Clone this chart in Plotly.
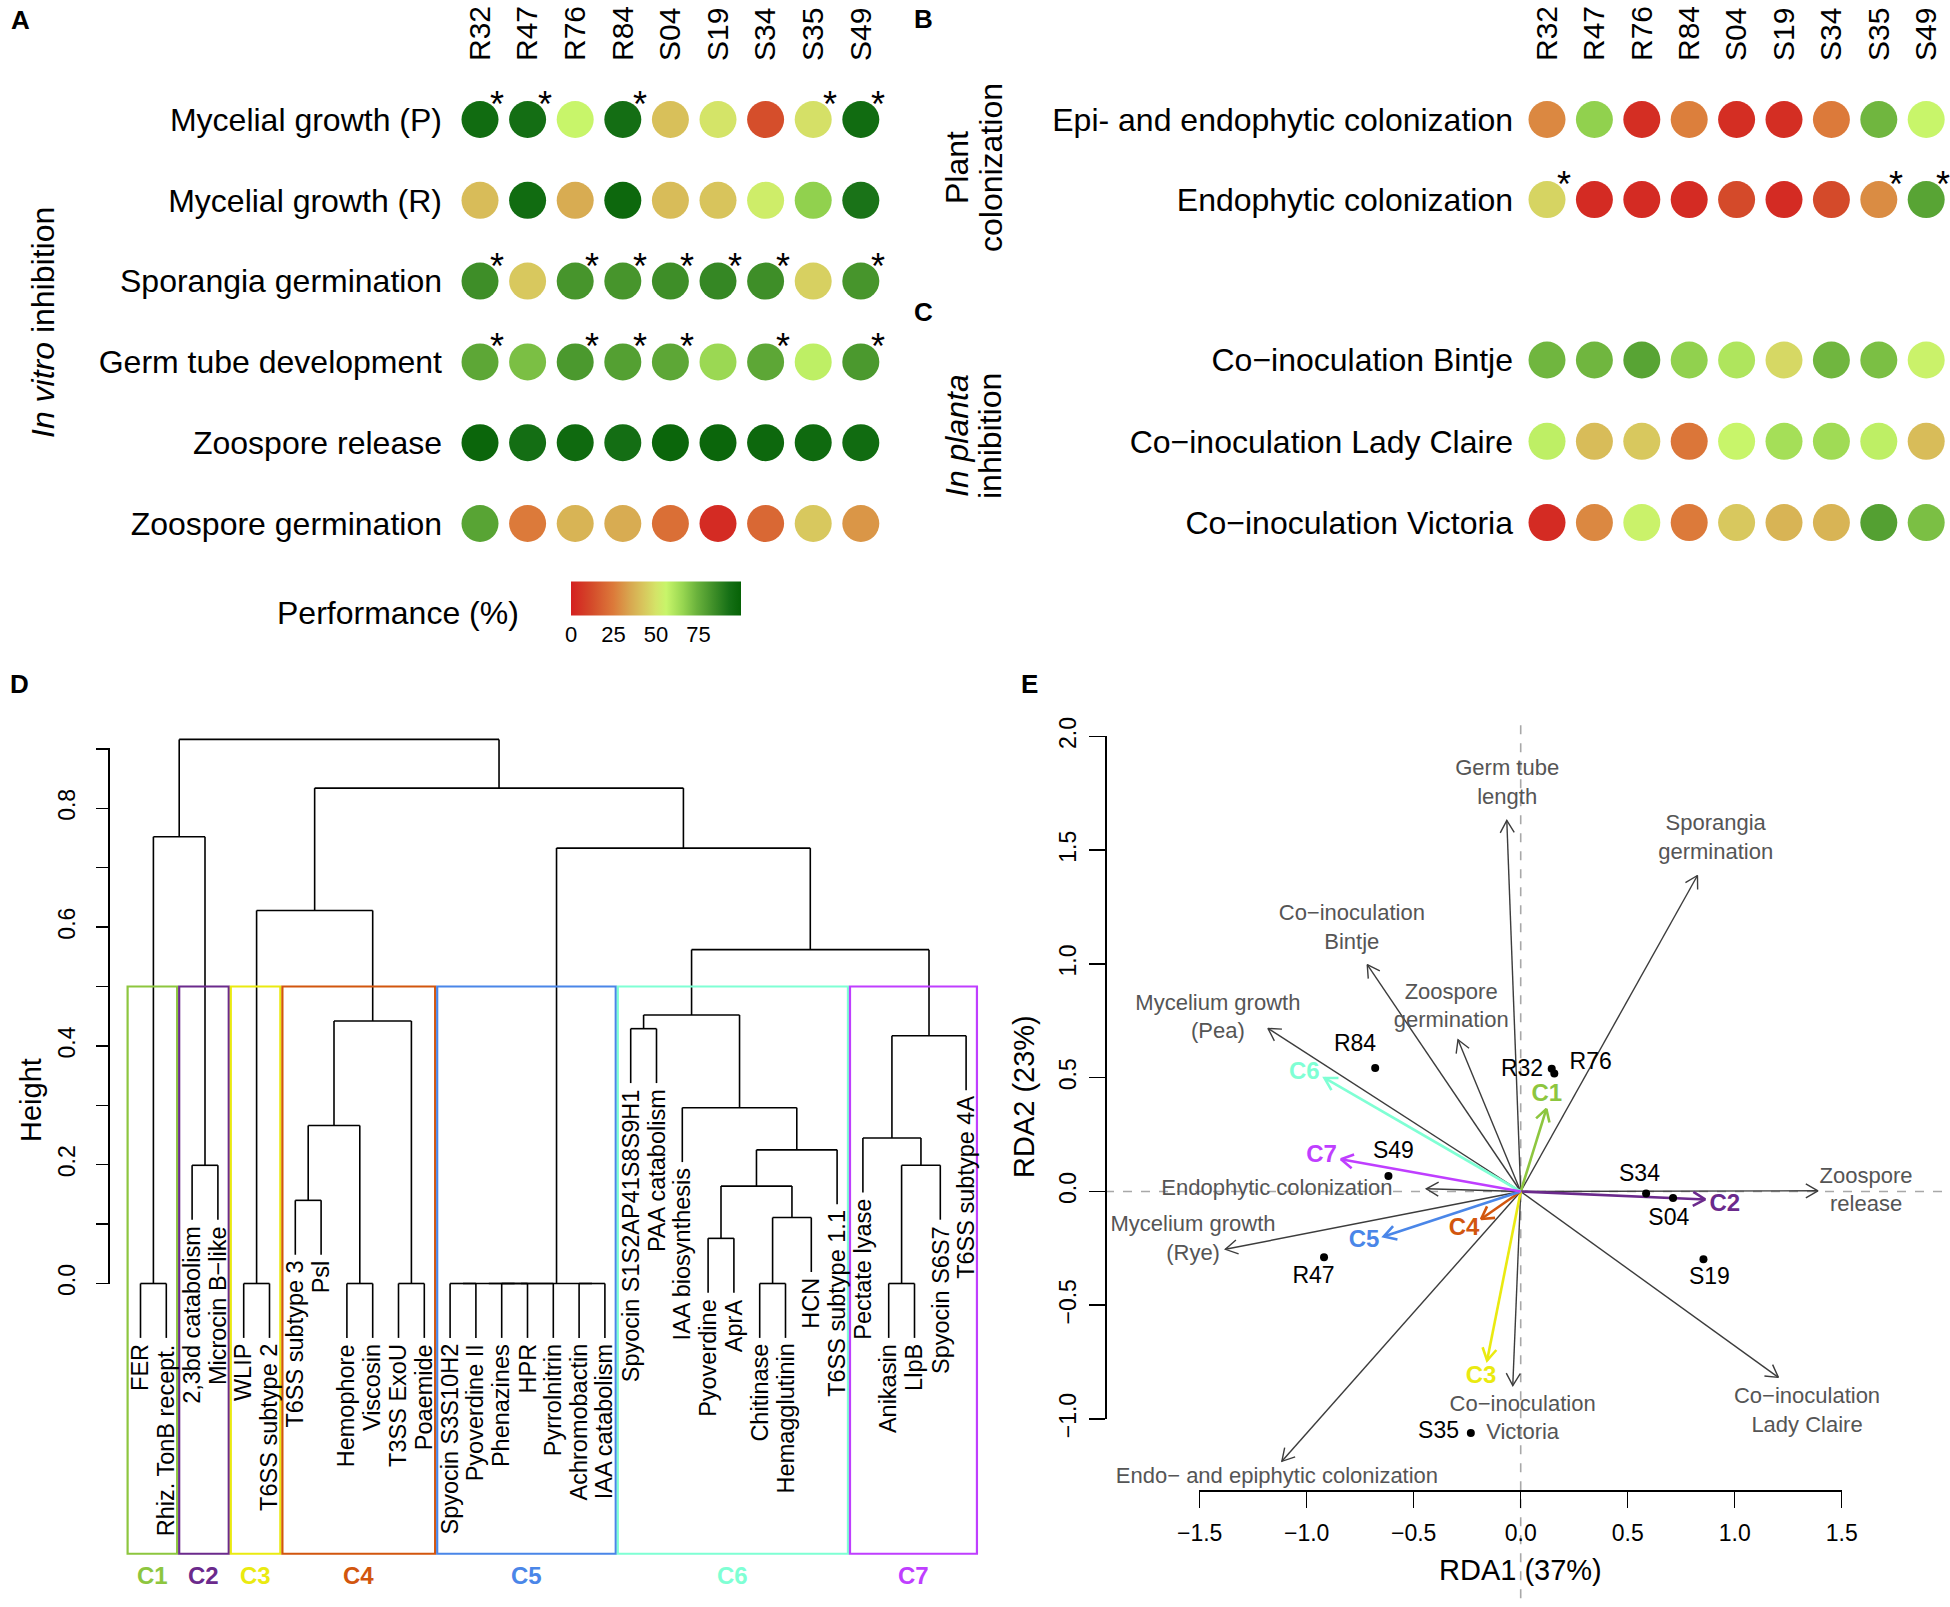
import math
import plotly.graph_objects as go

W, H = 1950, 1607
FONT = "Liberation Sans, Arial, Helvetica, sans-serif"

# ------------------------------------------------------------------ data
strains = ["R32", "R47", "R76", "R84", "S04", "S19", "S34", "S35", "S49"]

rows_A = ["Mycelial growth (P)", "Mycelial growth (R)", "Sporangia germination",
          "Germ tube development", "Zoospore release", "Zoospore germination"]
perf_A = [
    [95, 94, 56, 94, 41, 50, 13, 49, 95],
    [40, 95, 36, 97, 40, 42, 53, 67, 92],
    [84, 43, 82, 82, 84, 86, 84, 45, 82],
    [77, 71, 81, 79, 77, 65, 77, 58, 81],
    [98, 94, 96, 94, 98, 98, 97, 96, 95],
    [78, 25, 38, 36, 22, 3, 20, 43, 31],
]
sig_A = [
    [1, 1, 0, 1, 0, 0, 0, 1, 1],
    [0, 0, 0, 0, 0, 0, 0, 0, 0],
    [1, 0, 1, 1, 1, 1, 1, 0, 1],
    [1, 0, 1, 1, 1, 0, 1, 0, 1],
    [0, 0, 0, 0, 0, 0, 0, 0, 0],
    [0, 0, 0, 0, 0, 0, 0, 0, 0],
]

rows_B = ["Epi- and endophytic colonization", "Endophytic colonization"]
perf_B = [
    [28, 67, 4, 26, 4, 4, 25, 73, 56],
    [46, 3, 3, 3, 12, 3, 12, 29, 78],
]
sig_B = [
    [0, 0, 0, 0, 0, 0, 0, 0, 0],
    [1, 0, 0, 0, 0, 0, 0, 1, 1],
]

rows_C = ["Co\u2212inoculation Bintje", "Co\u2212inoculation Lady Claire", "Co\u2212inoculation Victoria"]
perf_C = [
    [73, 73, 78, 67, 61, 47, 73, 71, 55],
    [58, 40, 43, 24, 56, 63, 64, 58, 40],
    [3, 28, 55, 25, 43, 38, 38, 79, 71],
]

perf_scale = [[0.00, "#D42020"], [0.12, "#D44A2A"], [0.25, "#DC7A3A"], [0.35, "#D8A850"],
              [0.42, "#D8C45C"], [0.50, "#D4E468"], [0.56, "#C8F56A"], [0.66, "#96D550"],
              [0.74, "#6AB23C"], [0.84, "#3E8E28"], [0.93, "#167016"], [1.00, "#066206"]]
perf_ticks = [0, 25, 50, 75]

# dendrogram (panel D)
leaves = ["FER", "Rhiz. TonB recept.", "2,3bd catabolism", "Microcin B\u2212like", "WLIP",
          "T6SS subtype 2", "T6SS subtype 3", "Psl", "Hemophore", "Viscosin", "T3SS ExoU",
          "Poaemide", "Spyocin S3S10H2", "Pyoverdine II", "Phenazines", "HPR", "Pyrrolnitrin",
          "Achromobactin", "IAA catabolism", "Spyocin S1S2AP41S8S9H1", "PAA catabolism",
          "IAA biosynthesis", "Pyoverdine", "AprA", "Chitinase", "Hemagglutinin", "HCN",
          "T6SS subtype 1.1", "Pectate lyase", "Anikasin", "LlpB", "Spyocin S6S7",
          "T6SS subtype 4A"]
# R hclust-style merge table: negative = leaf (1-based), positive = earlier merge row
merges = [
    (-1, -2, 0.000), (-3, -4, 0.199), (-5, -6, 0.000), (-7, -8, 0.140),
    (-9, -10, 0.000), (-11, -12, 0.000), (4, 5, 0.266), (7, 6, 0.442),
    (-13, -14, 0.000), (-15, -16, 0.000), (9, 10, 0.000), (11, -17, 0.000),
    (-18, -19, 0.000), (12, 13, 0.000), (-20, -21, 0.429), (-23, -24, 0.076),
    (-25, -26, 0.000), (17, -27, 0.111), (16, 18, 0.164), (19, -28, 0.225),
    (-22, 20, 0.296), (15, 21, 0.452), (-30, -31, 0.000), (23, -32, 0.199),
    (-29, 24, 0.245), (25, -33, 0.417), (22, 26, 0.562), (14, 27, 0.733),
    (3, 8, 0.628), (29, 28, 0.834), (1, 2, 0.752), (31, 30, 0.916),
]
hang = 0.1
cluster_names = ["C1", "C2", "C3", "C4", "C5", "C6", "C7"]
cluster_sizes = [2, 2, 2, 6, 7, 9, 5]
cluster_colors = ["#8DC63F", "#6B2A8C", "#EAEA10", "#D2560E", "#4A86E8", "#7FFFD4", "#BF3EFF"]
cut_height = 0.5
height_ticks = [0.0, 0.2, 0.4, 0.6, 0.8]

# RDA biplot (panel E)
var_names = ["Germ tube<br>length", "Sporangia<br>germination", "Co\u2212inoculation<br>Bintje",
             "Zoospore<br>germination", "Mycelium growth<br>(Pea)", "Endophytic colonization",
             "Mycelium growth<br>(Rye)", "Endo\u2212 and epiphytic colonization",
             "Co\u2212inoculation<br>Victoria", "Co\u2212inoculation<br>Lady Claire", "Zoospore<br>release"]
var_x = [-0.065, 0.826, -0.717, -0.293, -1.181, -0.441, -1.380, -1.116, -0.037, 1.204, 1.389]
var_y = [1.631, 1.389, 0.997, 0.667, 0.717, 0.012, -0.254, -1.186, -0.853, -0.817, 0.003]
var_lab_x = [-0.063, 0.911, -0.789, -0.325, -1.415, -1.139, -1.531, -1.139, 0.009, 1.338, 1.614]
var_lab_y = [1.790, 1.549, 1.153, 0.808, 0.761, 0.009, -0.212, -1.257, -1.003, -0.970, 0.000]

cl_x = [0.120, 0.862, -0.157, -0.185, -0.640, -0.917, -0.840]
cl_y = [0.363, -0.035, -0.743, -0.121, -0.198, 0.499, 0.142]
cl_lab_x = [0.122, 0.954, -0.185, -0.265, -0.732, -1.011, -0.931]
cl_lab_y = [0.425, -0.059, -0.817, -0.165, -0.218, 0.519, 0.156]

site_names = ["R84", "R32", "R76", "S49", "S34", "S04", "S19", "R47", "S35"]
site_x = [-0.680, 0.145, 0.157, -0.618, 0.586, 0.712, 0.854, -0.919, -0.233]
site_y = [0.543, 0.540, 0.519, 0.068, -0.009, -0.029, -0.298, -0.289, -1.062]
site_lab_x = [-0.774, 0.006, 0.327, -0.595, 0.555, 0.692, 0.882, -0.968, -0.384]
site_lab_y = [0.643, 0.534, 0.563, 0.174, 0.071, -0.121, -0.381, -0.378, -1.059]

rda_xticks = [-1.5, -1.0, -0.5, 0.0, 0.5, 1.0, 1.5]
rda_yticks = [-1.0, -0.5, 0.0, 0.5, 1.0, 1.5, 2.0]


# ------------------------------------------------------------------ helpers
def xr(px0, k, d0, d1):
    return [(d0 - px0) / k, (d1 - px0) / k]


def yr(py0, k, top, bottom):
    # screen px = py0 - k * value
    return [(py0 - bottom) / k, (py0 - top) / k]


def xdom(d0, d1):
    return [d0 / W, d1 / W]


def ydom(top, bottom):
    return [1 - bottom / H, 1 - top / H]


def fmt(v):
    s = "%.1f" % v
    return s.replace("-", "\u2212")


fig = go.Figure()
annotations = []
shapes = []
noaxis = dict(showgrid=False, zeroline=False, showline=False, ticks="", fixedrange=True)

# ------------------------------------------------------------------ panels A, B, C (dot plots)
def dot_panel(perf, sig, xa, ya):
    xs, ys, cs = [], [], []
    for r, row in enumerate(perf):
        for c, v in enumerate(row):
            xs.append(c)
            ys.append(r)
            cs.append(v)
            if sig and sig[r][c]:
                annotations.append(dict(x=c, y=r, xref=xa, yref=ya, text="*", showarrow=False,
                                        xshift=17, yshift=15, font=dict(size=36, color="black")))
    fig.add_trace(go.Scatter(x=xs, y=ys, mode="markers", xaxis=xa, yaxis=ya,
                             marker=dict(size=37, color=cs, coloraxis="coloraxis", line=dict(width=0)),
                             hoverinfo="skip", showlegend=False))


dot_panel(perf_A, sig_A, "x", "y")
dot_panel(perf_B, sig_B, "x2", "y2")
dot_panel(perf_C, None, "x3", "y3")

# ------------------------------------------------------------------ panel D (dendrogram)
hang_len = hang * max(m[2] for m in merges)
pos, hgt = [], []
seg_x, seg_y = [], []
leaf_end = {}
for a, b, h in merges:
    xs = []
    for ch in (a, b):
        if ch < 0:
            i = -ch - 1
            cx, low = i, h - hang_len
            leaf_end[i] = low
        else:
            cx, low = pos[ch - 1], hgt[ch - 1]
        seg_x += [cx, cx, None]
        seg_y += [low, h, None]
        xs.append(cx)
    seg_x += [xs[0], xs[1], None]
    seg_y += [h, h, None]
    pos.append((xs[0] + xs[1]) / 2)
    hgt.append(h)

fig.add_trace(go.Scatter(x=seg_x, y=seg_y, mode="lines", xaxis="x4", yaxis="y4",
                         line=dict(color="black", width=1.6), hoverinfo="skip", showlegend=False))
for i, name in enumerate(leaves):
    annotations.append(dict(x=i, y=leaf_end[i], xref="x4", yref="y4", text=name, textangle=-90,
                            xanchor="center", yanchor="top", yshift=-4, showarrow=False,
                            font=dict(size=23.5, color="black")))

box_bottom = -0.455
start = 0
for name, size, col in zip(cluster_names, cluster_sizes, cluster_colors):
    end = start + size - 1
    shapes.append(dict(type="rect", xref="x4", yref="y4", x0=start - 0.5, x1=end + 0.42,
                       y0=box_bottom, y1=cut_height, line=dict(color=col, width=2.2)))
    annotations.append(dict(x=(start - 0.5 + end + 0.42) / 2, y=-0.492, xref="x4", yref="y4",
                            text="<b>%s</b>" % name, showarrow=False,
                            font=dict(size=24, color=col)))
    start = end + 1

fig.add_trace(go.Scatter(x=[None], y=[None], xaxis="x4", yaxis="y5", showlegend=False, hoverinfo="skip"))

# ------------------------------------------------------------------ panel E (RDA biplot)
KX, KY = 214.0, 227.5
X0PX, Y0PX = 1520.7, 1191.5
yaxis_line_px = 1105.0
x_left = (yaxis_line_px - X0PX) / KX
x_right = (1950 - X0PX) / KX
y_bottom = (Y0PX - 1607) / KY
fig.add_trace(go.Scatter(x=[0, 0, None, x_left, x_right], y=[2.05, y_bottom, None, 0, 0],
                         mode="lines", xaxis="x6", yaxis="y6",
                         line=dict(color="#A8A8A8", width=1.6, dash="dash"),
                         hoverinfo="skip", showlegend=False))


def arrows(xt, yt, L=14.0, ang=30.0):
    ax, ay = [], []
    for x, y in zip(xt, yt):
        dx, dy = x * KX, y * KY
        n = math.hypot(dx, dy)
        ux, uy = -dx / n, -dy / n
        ax += [0, x, None]
        ay += [0, y, None]
        hx, hy = [], []
        for s in (1, -1):
            a = math.radians(ang * s)
            vx = ux * math.cos(a) - uy * math.sin(a)
            vy = ux * math.sin(a) + uy * math.cos(a)
            hx.append(x + L * vx / KX)
            hy.append(y + L * vy / KY)
        ax += [hx[0], x, hx[1], None]
        ay += [hy[0], y, hy[1], None]
    return ax, ay


vx_, vy_ = arrows(var_x, var_y)
fig.add_trace(go.Scatter(x=vx_, y=vy_, mode="lines", xaxis="x6", yaxis="y6",
                         line=dict(color="#3C3C3C", width=1.4), hoverinfo="skip", showlegend=False))
fig.add_trace(go.Scatter(x=var_lab_x, y=var_lab_y, text=var_names, mode="text", xaxis="x6", yaxis="y6",
                         textfont=dict(size=22, color="#555555"), hoverinfo="skip", showlegend=False))

for name, x, y, lx, ly, col in zip(cluster_names, cl_x, cl_y, cl_lab_x, cl_lab_y, cluster_colors):
    ax, ay = arrows([x], [y], L=14.0)
    fig.add_trace(go.Scatter(x=ax, y=ay, mode="lines", xaxis="x6", yaxis="y6",
                             line=dict(color=col, width=2.6), hoverinfo="skip", showlegend=False))
    fig.add_trace(go.Scatter(x=[lx], y=[ly], text=["<b>%s</b>" % name], mode="text", xaxis="x6", yaxis="y6",
                             textfont=dict(size=24, color=col), hoverinfo="skip", showlegend=False))

fig.add_trace(go.Scatter(x=site_x, y=site_y, mode="markers", xaxis="x6", yaxis="y6",
                         marker=dict(size=8, color="black"), hoverinfo="skip", showlegend=False))
fig.add_trace(go.Scatter(x=site_lab_x, y=site_lab_y, text=site_names, mode="text", xaxis="x6", yaxis="y6",
                         textfont=dict(size=23, color="black"), hoverinfo="skip", showlegend=False))

fig.add_trace(go.Scatter(x=[None], y=[None], xaxis="x7", yaxis="y7", showlegend=False, hoverinfo="skip"))

# ------------------------------------------------------------------ text labels
def ann(text, x, y, size, angle=0, bold=False, color="black"):
    annotations.append(dict(x=x / W, y=1 - y / H, xref="paper", yref="paper",
                            text=("<b>%s</b>" % text) if bold else text, textangle=angle,
                            xanchor="center", yanchor="middle", showarrow=False,
                            font=dict(size=size, color=color)))


ann("A", 20, 20, 26, bold=True)
ann("B", 923, 19, 26, bold=True)
ann("C", 923, 312, 26, bold=True)
ann("D", 19, 684, 26, bold=True)
ann("E", 1029, 684, 26, bold=True)
ann("<i>In vitro</i> inhibition", 43, 323, 32, angle=-90)
ann("Plant", 957, 168, 32, angle=-90)
ann("colonization", 991, 168, 32, angle=-90)
ann("<i>In planta</i>", 957, 436, 32, angle=-90)
ann("inhibition", 990, 436, 32, angle=-90)
ann("Performance (%)", 398, 613, 32)
ann("Height", 31, 1100, 29, angle=-90)
ann("RDA1 (37%)", 1520, 1570, 29)
ann("RDA2 (23%)", 1024, 1097, 29, angle=-90)

# ------------------------------------------------------------------ layout / axes
colA_px0, colA_k = 480.0, 47.6
colB_px0, colB_k = 1547.0, 47.4
top_tick = dict(side="top", tickmode="array", tickvals=list(range(len(strains))), ticktext=strains,
                tickangle=-90, tickfont=dict(size=30), showgrid=False, zeroline=False,
                showline=False, ticks="", automargin=False)

layout = dict(
    width=W, height=H, margin=dict(l=0, r=0, t=0, b=0, pad=0, autoexpand=False), autosize=False,
    paper_bgcolor="white", plot_bgcolor="rgba(0,0,0,0)", showlegend=False,
    font=dict(family=FONT, color="black"),
    coloraxis=dict(cmin=0, cmax=100, colorscale=perf_scale,
                   colorbar=dict(orientation="h", x=656 / W, xanchor="center", y=1 - 611 / H,
                                 yanchor="middle", len=170, lenmode="pixels", thickness=34,
                                 thicknessmode="pixels", tickvals=perf_ticks, ticks="",
                                 tickfont=dict(size=22), outlinewidth=0, xpad=0, ypad=0)),
    # panel A
    xaxis=dict(domain=xdom(443, 890), range=xr(colA_px0, colA_k, 443, 890), anchor="y", **top_tick),
    yaxis=dict(domain=ydom(62, 560), range=yr(119.5, -80.8, 62, 560), anchor="x",
               tickmode="array", tickvals=list(range(len(rows_A))), ticktext=rows_A,
               tickfont=dict(size=32), automargin=False, **noaxis),
    # panel B
    xaxis2=dict(domain=xdom(1514, 1950), range=xr(colB_px0, colB_k, 1514, 1950), anchor="y2", **top_tick),
    yaxis2=dict(domain=ydom(62, 250), range=yr(119.5, -80.1, 62, 250), anchor="x2",
                tickmode="array", tickvals=list(range(len(rows_B))), ticktext=rows_B,
                tickfont=dict(size=32), automargin=False, **noaxis),
    # panel C
    xaxis3=dict(domain=xdom(1514, 1950), range=xr(colB_px0, colB_k, 1514, 1950), anchor="y3",
                visible=False),
    yaxis3=dict(domain=ydom(310, 560), range=yr(360.0, -81.3, 310, 560), anchor="x3",
                tickmode="array", tickvals=list(range(len(rows_C))), ticktext=rows_C,
                tickfont=dict(size=32), automargin=False, **noaxis),
    # panel D
    xaxis4=dict(domain=xdom(100, 1000), range=xr(140.5, 25.8, 100, 1000), anchor="y4", visible=False),
    yaxis4=dict(domain=ydom(690, 1607), range=yr(1283.5, 594.0, 690, 1607), anchor="x4", visible=False),
    yaxis5=dict(domain=ydom(1283.5 - 594.0 * 0.901, 1283.5 + 594.0 * 0.001), range=[-0.001, 0.901],
                anchor="free", position=108 / W, showline=True, linecolor="black", linewidth=1.5,
                ticks="outside", ticklen=12, tickwidth=1.5, tickcolor="black",
                tickmode="array", tickvals=height_ticks, ticktext=[fmt(v) for v in height_ticks],
                tickangle=-90, tickfont=dict(size=23), ticklabelstandoff=12, automargin=False,
                minor=dict(ticks="outside", dtick=0.1, tick0=0, ticklen=12, tickwidth=1.5,
                           tickcolor="black", showgrid=False),
                showgrid=False, zeroline=False),
    # panel E
    xaxis6=dict(domain=xdom(1000, 1950), range=xr(X0PX, KX, 1000, 1950), anchor="y6", visible=False),
    yaxis6=dict(domain=ydom(690, 1607), range=yr(Y0PX, KY, 690, 1607), anchor="x6", visible=False),
    xaxis7=dict(domain=xdom(X0PX - 1.502 * KX, X0PX + 1.502 * KX), range=[-1.502, 1.502],
                anchor="free", position=1 - 1490 / H, showline=True, linecolor="black", linewidth=1.5,
                ticks="outside", ticklen=16, tickwidth=1.5, tickcolor="black",
                tickmode="array", tickvals=rda_xticks, ticktext=[fmt(v) for v in rda_xticks],
                tickfont=dict(size=23), ticklabelstandoff=6, automargin=False,
                showgrid=False, zeroline=False),
    yaxis7=dict(domain=ydom(Y0PX - 2.002 * KY, Y0PX + 1.002 * KY), range=[-1.002, 2.002],
                anchor="free", position=1105 / W, showline=True, linecolor="black", linewidth=1.5,
                ticks="outside", ticklen=16, tickwidth=1.5, tickcolor="black",
                tickmode="array", tickvals=rda_yticks, ticktext=[fmt(v) for v in rda_yticks],
                tickangle=-90, tickfont=dict(size=23), ticklabelstandoff=4, automargin=False,
                showgrid=False, zeroline=False),
    annotations=annotations,
    shapes=shapes,
)
fig.update_layout(**layout)
fig.write_html("out.html", config={"displayModeBar": False, "staticPlot": True},
               post_script="document.body.style.margin='0px';")
